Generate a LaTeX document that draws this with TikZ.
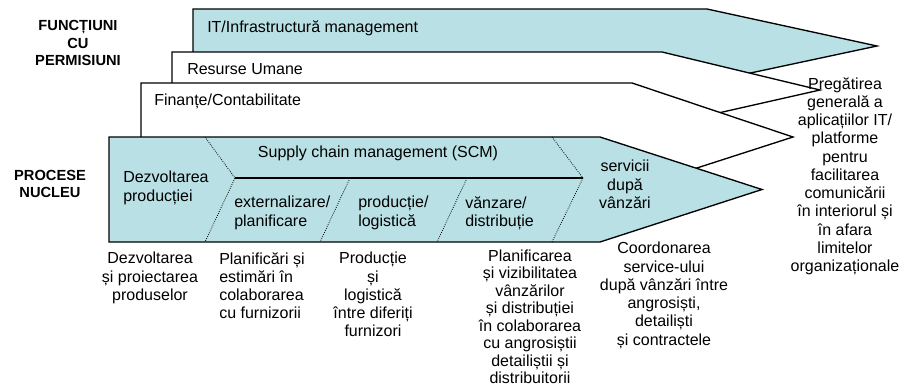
\documentclass[tikz,border=0pt]{standalone}
\usepackage{fontspec}
\setmainfont{Liberation Sans}
\usetikzlibrary{positioning}
\definecolor{bandcyan}{RGB}{185,224,228}

\begin{document}
\begin{tikzpicture}[
    x=0.75pt, y=-0.75pt,
    band/.style={draw=black, line width=1pt, line join=miter},
    cyanband/.style={band, fill=bandcyan},
    whiteband/.style={band, fill=white},
    divider/.style={line width=0.6pt, dash pattern=on 0.6pt off 1pt},
    headtext/.style={font=\bfseries\fontsize{11}{13}\selectfont, align=center, inner sep=0pt},
    bandtext/.style={font=\fontsize{12}{13.7}\selectfont, align=left, inner sep=0pt, anchor=north west},
    desctext/.style={font=\fontsize{12}{13.7}\selectfont, align=center, inner sep=0pt, anchor=north}
]
\useasboundingbox (0,0) rectangle (907,386);

% bands, back to front
\path[cyanband] (193,9) -- (707,9) -- (877,46) -- (743,74.6) -- (193,74.6) -- cycle;
\path[whiteband] (172,52) -- (662,52) -- (820,90) -- (713,114.2) -- (172,114.2) -- cycle;
\path[whiteband] (141,83) -- (632,83) -- (793,137) -- (690.7,170) -- (141,170) -- cycle;
\path[cyanband] (109,137) -- (600,137) -- (762,189.5) -- (600,242) -- (109,242) -- cycle;

% core process segments
\draw[divider] (205,137) -- (235,178) -- (205,242);
\draw[line width=1pt] (235,178) -- (583,178);
\draw[divider] (350,178) -- (320,242);
\draw[divider] (467,178) -- (437,242);
\draw[divider] (552,137) -- (583,178) -- (552,242);

\node[headtext] (fpTitle) at (78,43) {FUNCȚIUNI\\CU\\PERMISIUNI};
\node[headtext] (pnTitle) at (50,184) {PROCESE\\NUCLEU};

\node[bandtext] (itLbl) at (207,20) {IT/Infrastructură management};
\node[bandtext] (hrLbl) at (187,63) {Resurse Umane};
\node[bandtext] (finLbl) at (154,94) {Finanțe/Contabilitate};
\node[bandtext] (devLbl) at (123,171) {Dezvoltarea\\producției};
\node[desctext] (scmLbl) at (378,146) {Supply chain management (SCM)};
\node[bandtext] (extLbl) at (234,196) {externalizare/\\planificare};
\node[bandtext] (prodLbl) at (358,196) {producție/\\logistică};
\node[bandtext] (salesLbl) at (465,196) {vănzare/\\distribuție};
\node[desctext] (svcLbl) at (625,160) {servicii\\după\\vânzări};

% descriptions
\node[desctext] (devDesc) at (150,252) {Dezvoltarea\\și proiectarea\\produselor};
\node[bandtext] (extDesc) at (219,252) {Planificări și\\estimări în\\colaborarea\\cu furnizorii};
\node[desctext] (prodDesc) at (373,252) {Producție\\și\\logistică\\între diferiți\\furnizori};
\node[desctext, font=\fontsize{12}{13.1}\selectfont] (salesDesc) at (530,249.5) {Planificarea\\și vizibilitatea\\vânzărilor\\și distribuției\\în colaborarea\\cu angrosiștii\\detailiștii și\\distribuitorii};
\node[desctext] (svcDesc) at (664,242) {Coordonarea\\service-ului\\după vânzări între\\angrosiști,\\detailiști\\și contractele};
\node[desctext] (itDesc) at (845,77) {Pregătirea\\generală a\\aplicațiilor IT/\\platforme\\pentru\\facilitarea\\comunicării\\în interiorul și\\în afara\\limitelor\\organizaționale};

\end{tikzpicture}
\end{document}
